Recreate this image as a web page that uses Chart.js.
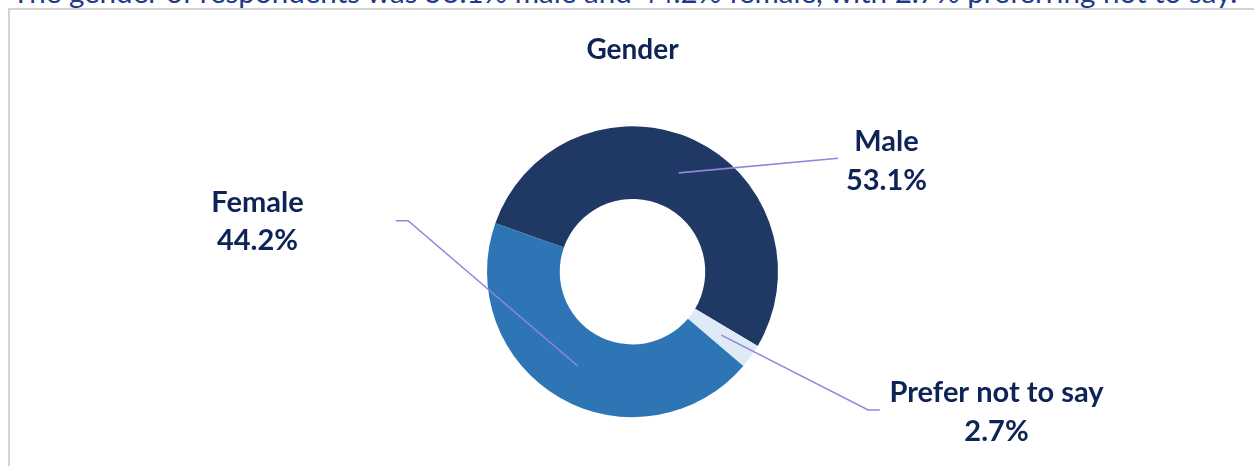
<!DOCTYPE html>
<html>
<head>
<meta charset="utf-8">
<script src="https://cdn.jsdelivr.net/npm/chart.js@4.4.1/dist/chart.umd.min.js"></script>
<style>
  html, body { margin: 0; padding: 0; background: #fff; overflow: hidden; }
  #wrap { position: relative; width: 1254px; height: 466px; }
  #lead { position: absolute; left: 12px; white-space: nowrap; font-family: Lato, sans-serif; color: #1F3A8A; line-height: 1; }
  #box { position: absolute; left: 8px; top: 8px; width: 1300px; height: 500px; border: 2px solid #D3D3D3; box-sizing: border-box; }
  #genderChart { position: absolute; left: 0; top: 0; }
</style>
</head>
<body>
<div id="wrap">
  <div id="lead">The gender of respondents was 53.1% male and 44.2% female, with 2.7% preferring not to say.</div>
  <div id="box"></div>
  <canvas id="genderChart" width="1254" height="466"></canvas>
</div>
<script>
// data
const categories = ['Male', 'Prefer not to say', 'Female'];
const shares = [53.1, 2.7, 44.2];
const sliceColors = ['#203864', '#DEEBF7', '#2E75B6'];

const navy = '#0E2356';
const leaderColor = '#9385DA';

// fit the clipped sentence across the top
(function () {
    const lead = document.getElementById('lead');
    const m = document.createElement('canvas').getContext('2d');
    m.font = '100px Lato';
    const w = m.measureText(lead.textContent).width;
    const size = 100 * 1228 / w;
    lead.style.fontSize = size + 'px';
    lead.style.top = (3 - 0.887 * size) + 'px';
})();

// label placement relative to the donut centre (text centre x, first/second baseline y)
// and leader path (elbow, end) starting from each slice centroid
const labelLayout = [
    { x: 254, y1: -121, y2: -82, elbow: null, end: [205.6, -113.4] },
    { x: 364, y1: 130, y2: 169, elbow: [235.6, 138.3], end: [247.3, 138.3] },
    { x: -375, y1: -60, y2: -22, elbow: [-224.4, -51], end: [-236.7, -51] }
];

const calloutPlugin = {
    id: 'callouts',
    afterDatasetsDraw(chart) {
        const ctx = chart.ctx;
        const meta = chart.getDatasetMeta(0);
        meta.data.forEach((arc, i) => {
            const cx = arc.x, cy = arc.y;
            const p = arc.tooltipPosition();
            const lay = labelLayout[i];
            ctx.save();
            ctx.strokeStyle = leaderColor;
            ctx.lineWidth = 1.6;
            ctx.beginPath();
            ctx.moveTo(p.x, p.y);
            if (lay.elbow) ctx.lineTo(cx + lay.elbow[0], cy + lay.elbow[1]);
            ctx.lineTo(cx + lay.end[0], cy + lay.end[1]);
            ctx.stroke();
            ctx.fillStyle = navy;
            ctx.font = 'bold 29px Lato';
            ctx.textAlign = 'center';
            ctx.textBaseline = 'alphabetic';
            ctx.fillText(categories[i], cx + lay.x, cy + lay.y1);
            ctx.fillText(shares[i].toFixed(1) + '%', cx + lay.x, cy + lay.y2);
            ctx.restore();
        });
    }
};

new Chart(document.getElementById('genderChart').getContext('2d'), {
    type: 'doughnut',
    data: {
        labels: categories,
        datasets: [{
            data: shares,
            backgroundColor: sliceColors,
            borderWidth: 0
        }]
    },
    options: {
        responsive: false,
        animation: false,
        cutout: '50%',
        rotation: -70.5,
        layout: { padding: { left: 11, right: 0, top: 0, bottom: 48.8 } },
        plugins: {
            legend: { display: false },
            tooltip: { enabled: false },
            title: {
                display: true,
                text: 'Gender',
                color: navy,
                font: { family: 'Lato', size: 28, weight: 'bold', lineHeight: 1.2 },
                padding: { top: 33.2, bottom: 59.4 }
            }
        }
    },
    plugins: [calloutPlugin]
});
</script>
</body>
</html>
